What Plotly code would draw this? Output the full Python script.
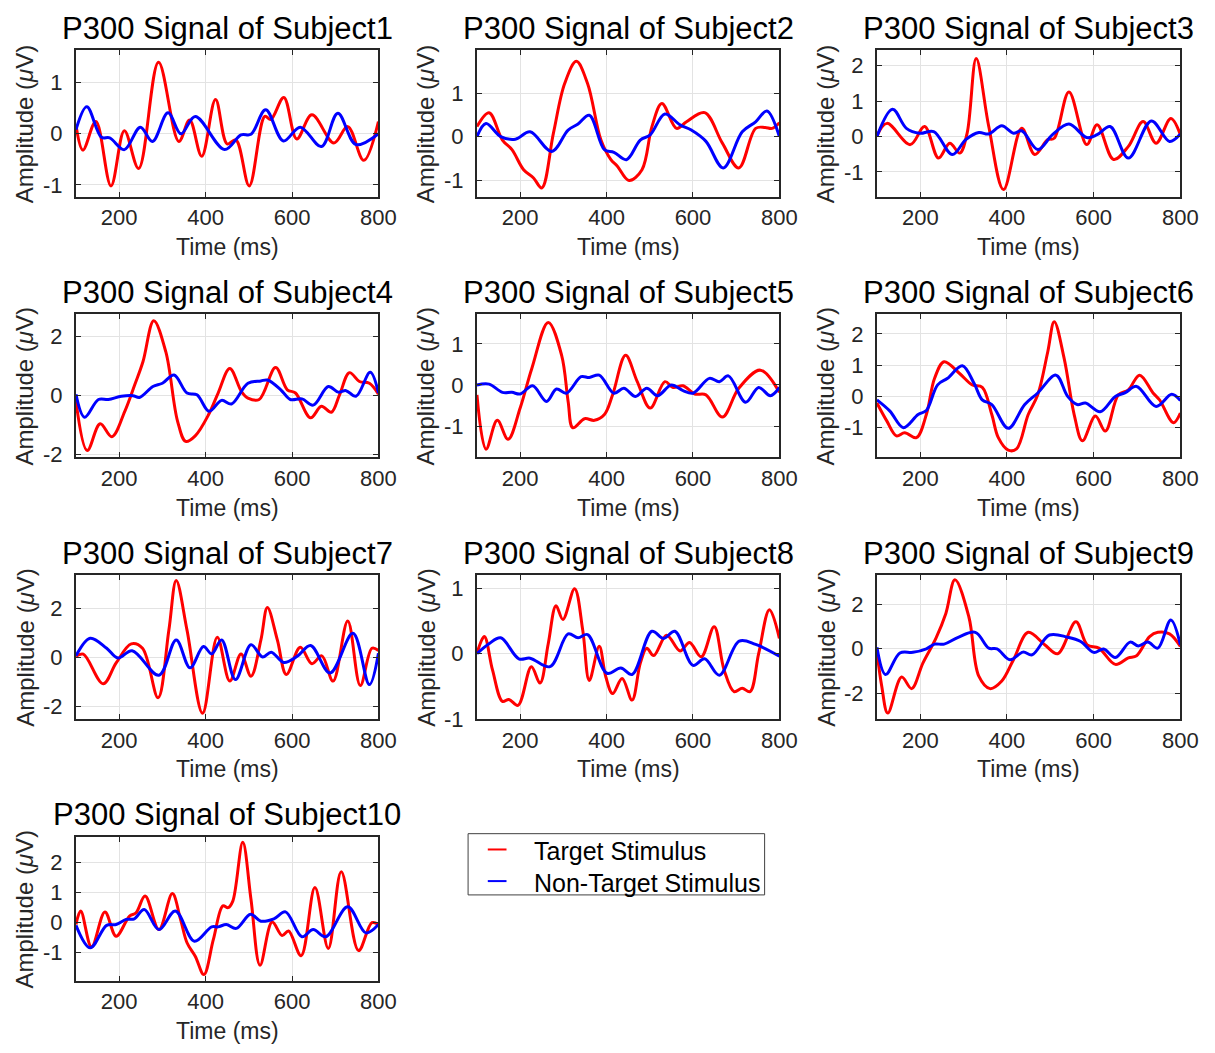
import plotly.graph_objects as go

# ---------------- data ----------------
s1_target_t = [100,116,146,181,212,245,291,338,363,391,423,450,470,501,537,551,581,611,646,697,729,766,800]
s1_target_v = [0.17,-0.32,0.24,-1.02,0.06,-0.68,1.40,-0.15,0.27,-0.44,0.67,-0.20,-0.12,-1.02,0.34,0.28,0.71,-0.10,0.37,-0.18,0.14,-0.52,0.24]
s1_non_t = [100,125,159,178,212,249,277,313,343,376,444,482,505,539,580,619,668,706,748,800]
s1_non_v = [0.08,0.53,-0.07,-0.08,-0.31,0.13,-0.15,0.41,0.0,0.34,-0.31,-0.02,-0.01,0.47,-0.14,0.13,-0.25,0.40,-0.21,0.0]

s2_target_t = [100,128,159,181,208,231,250,277,303,330,356,387,410,425,452,482,505,528,562,585,627,668,706,745,767,783,800]
s2_target_v = [0.23,0.55,-0.08,-0.30,-0.76,-0.95,-1.18,0.08,1.22,1.73,1.22,-0.08,-0.53,-0.68,-1.01,-0.76,0.23,0.76,0.19,0.34,0.55,-0.15,-0.72,0.19,0.21,0.19,0.32]
s2_non_t = [100,121,155,189,223,273,311,334,360,395,417,446,478,501,535,570,596,630,670,714,745,771,800]
s2_non_v = [0.0,0.30,0.0,-0.06,0.11,-0.34,0.15,0.29,0.49,-0.30,-0.36,-0.53,-0.08,0.04,0.52,0.27,0.15,-0.11,-0.72,0.11,0.34,0.59,0.0]

s3_target_t = [100,123,177,210,242,268,291,308,329,358,392,434,464,494,509,543,584,608,646,680,714,744,778,800]
s3_target_v = [0.02,0.37,-0.23,0.28,-0.61,-0.19,-0.47,0.09,2.20,0.28,-1.50,0.23,-0.51,-0.09,-0.05,1.26,-0.23,0.33,-0.65,-0.28,0.42,-0.19,0.51,0.05]
s3_non_t = [100,136,168,199,231,274,305,335,358,388,415,434,471,505,543,584,608,638,680,733,775,800]
s3_non_v = [0.0,0.77,0.23,0.09,0.14,-0.51,-0.09,0.11,0.07,0.30,0.09,0.16,-0.37,0.05,0.35,-0.03,0.05,0.28,-0.61,0.44,-0.14,0.07]

s4_target_t = [100,126,156,183,213,236,255,280,308,335,354,376,407,429,456,483,498,524,562,589,608,643,668,691,710,733,756,779,800]
s4_target_v = [-0.2,-1.87,-0.96,-1.40,-0.54,0.36,1.14,2.53,1.47,-0.87,-1.56,-1.37,-0.65,0.08,0.91,0.13,-0.09,-0.14,0.94,0.19,0.08,-0.76,-0.37,-0.57,0.02,0.77,0.47,0.41,0.04]
s4_non_t = [100,120,152,175,205,232,247,278,300,327,357,380,408,437,460,498,528,543,574,596,623,649,684,707,725,748,781,800]
s4_non_v = [0.04,-0.74,-0.14,-0.14,-0.03,-0.01,-0.07,0.30,0.41,0.69,0.08,0.02,-0.54,-0.17,-0.29,0.41,0.49,0.52,0.19,-0.14,-0.12,-0.33,0.30,0.11,0.16,-0.03,0.78,0.08]

s5_target_t = [100,121,147,172,200,227,265,296,311,322,349,372,395,414,444,471,501,535,554,577,604,630,668,706,756,800]
s5_target_v = [-0.24,-1.56,-0.86,-1.32,-0.56,0.40,1.52,0.72,-0.40,-1.04,-0.82,-0.86,-0.72,-0.24,0.72,0.08,-0.56,0.08,-0.06,-0.02,-0.22,-0.24,-0.78,-0.08,0.36,-0.18]
s5_non_t = [100,128,159,181,200,229,261,284,307,341,360,383,417,440,467,493,518,550,577,600,638,661,682,722,752,779,800]
s5_non_v = [0.0,0.02,-0.18,-0.18,-0.22,-0.02,-0.40,-0.10,-0.20,0.20,0.18,0.24,-0.20,-0.08,-0.28,-0.08,-0.26,0.0,-0.14,-0.20,0.16,0.08,0.22,-0.42,-0.06,-0.26,-0.06]

s6_target_t = [100,123,145,164,191,214,233,255,290,320,343,365,380,403,422,449,471,494,509,532,555,574,604,627,657,680,706,737,752,784,800]
s6_target_v = [-0.21,-0.79,-1.26,-1.16,-1.32,-0.58,0.58,1.11,0.74,0.37,0.29,-0.58,-1.32,-1.72,-1.68,-0.58,0.05,1.42,2.39,1.21,-0.58,-1.42,-0.63,-1.11,0.05,0.21,0.68,0.11,-0.11,-0.84,-0.53]
s6_non_t = [100,130,161,195,214,240,263,297,324,343,365,403,441,471,513,540,562,581,615,650,672,699,744,780,800]
s6_non_v = [-0.11,-0.47,-1.0,-0.58,-0.45,0.37,0.58,0.98,0.42,-0.11,-0.26,-1.02,-0.26,0.11,0.68,0.0,-0.26,-0.21,-0.49,0.0,0.11,0.32,-0.32,0.07,-0.13]

s7_target_t = [100,117,163,193,228,254,290,315,332,357,393,427,456,482,505,528,543,566,587,619,646,669,695,729,758,785,800]
s7_target_v = [0.03,0.12,-1.09,-0.24,0.54,0.36,-1.66,1.10,3.12,1.10,-2.29,0.81,-0.98,0.13,-0.78,0.70,2.02,0.70,-0.71,0.40,-0.27,0.05,-0.98,1.47,-1.16,0.36,0.27]
s7_non_t = [100,133,171,197,230,292,332,364,395,414,437,469,505,532,552,581,612,643,688,741,779,800]
s7_non_v = [0.05,0.77,0.36,-0.04,0.26,-0.74,0.70,-0.44,0.43,0.13,0.70,-0.92,0.50,0.0,0.20,-0.22,0.03,0.47,-0.65,0.97,-1.12,0.16]

s8_target_t = [100,117,136,159,174,195,226,246,265,283,299,326,345,360,383,398,414,436,459,478,493,509,539,570,592,619,649,672,695,714,732,752,777,800]
s8_target_v = [0.0,0.26,-0.25,-0.73,-0.70,-0.79,-0.20,-0.45,0.15,0.73,0.52,0.99,0.35,-0.41,0.11,-0.35,-0.61,-0.38,-0.71,-0.15,0.08,-0.03,0.28,0.04,0.17,-0.05,0.41,-0.25,-0.58,-0.53,-0.58,0.0,0.67,0.23]
s8_non_t = [100,128,155,197,223,269,311,334,356,401,433,459,505,532,558,600,627,661,707,745,800]
s8_non_v = [0.0,0.15,0.24,-0.08,-0.07,-0.20,0.30,0.24,0.29,-0.30,-0.22,-0.32,0.34,0.23,0.34,-0.18,-0.08,-0.33,0.19,0.14,-0.04]

s9_target_t = [100,111,125,157,180,206,236,259,280,312,335,361,388,415,449,487,517,559,585,612,650,680,699,729,748,775,800]
s9_target_v = [-0.12,-1.67,-2.89,-1.27,-1.79,-0.64,0.47,1.59,3.10,1.44,-1.23,-1.79,-1.45,-0.49,0.74,0.18,-0.22,1.21,0.18,0.03,-0.70,-0.41,-0.31,0.55,0.74,0.67,0.10]
s9_non_t = [100,120,153,183,214,233,255,286,327,358,377,407,437,458,498,540,570,600,623,650,684,703,725,748,778,800]
s9_non_v = [0.07,-1.16,-0.19,-0.16,0.0,0.21,0.21,0.50,0.74,0.03,0.0,-0.49,-0.15,-0.27,0.62,0.52,0.33,-0.16,-0.01,-0.39,0.30,0.13,0.30,0.03,1.29,0.18]

s10_target_t = [100,111,136,167,193,224,239,260,292,323,342,357,376,396,418,440,452,463,486,505,526,554,577,592,621,653,684,714,754,785,800]
s10_target_v = [-0.08,0.37,-0.83,0.34,-0.47,0.20,0.31,0.87,-0.25,0.95,0.09,-0.69,-1.14,-1.75,-0.58,0.54,0.48,0.70,2.66,0.76,-1.44,0.0,-0.45,-0.30,-1.12,1.15,-0.88,1.68,-0.95,-0.02,-0.08]
s10_non_t = [100,133,171,193,216,235,258,292,330,374,414,429,448,471,504,528,558,585,623,649,678,729,771,800]
s10_non_v = [-0.11,-0.86,-0.11,-0.08,0.09,0.11,0.42,-0.25,0.37,-0.64,-0.16,-0.16,-0.08,-0.21,0.26,0.03,0.11,0.34,-0.49,-0.25,-0.49,0.51,-0.36,-0.08]

subject_names = ["Subject1","Subject2","Subject3","Subject4","Subject5",
                 "Subject6","Subject7","Subject8","Subject9","Subject10"]
y_ranges = [(-1.23,1.63),(-1.38,1.98),(-1.70,2.43),(-2.10,2.75),(-1.76,1.72),
            (-1.95,2.63),(-2.53,3.35),(-1.0,1.20),(-3.16,3.32),(-1.96,2.85)]
y_ticks = [[-1,0,1],[-1,0,1],[-1,0,1,2],[-2,0,2],[-1,0,1],
           [-1,0,1,2],[-2,0,2],[-1,0,1],[-2,0,2],[-1,0,1,2]]
x_ticks = [200,400,600,800]
legend_names = ["Target Stimulus", "Non-Target Stimulus"]
series_colors = ["#ff0000", "#0000ff"]

targets = [(s1_target_t,s1_target_v),(s2_target_t,s2_target_v),(s3_target_t,s3_target_v),
           (s4_target_t,s4_target_v),(s5_target_t,s5_target_v),(s6_target_t,s6_target_v),
           (s7_target_t,s7_target_v),(s8_target_t,s8_target_v),(s9_target_t,s9_target_v),
           (s10_target_t,s10_target_v)]
nontargets = [(s1_non_t,s1_non_v),(s2_non_t,s2_non_v),(s3_non_t,s3_non_v),
              (s4_non_t,s4_non_v),(s5_non_t,s5_non_v),(s6_non_t,s6_non_v),
              (s7_non_t,s7_non_v),(s8_non_t,s8_non_v),(s9_non_t,s9_non_v),
              (s10_non_t,s10_non_v)]

# ---------------- layout geometry (pixels) ----------------
W, H = 1215, 1053
cols_px = [(69, 376), (476, 783), (882, 1190)]
rows_px = [(43, 191), (310, 455), (574, 720), (839, 985)]
FONT = "Liberation Sans, Arial, Helvetica, sans-serif"
AXC = "#262626"

def px(x):
    return x / W

def py(y):
    return 1 - y / H

fig = go.Figure()
layout = dict(width=W, height=H, autosize=False,
              margin=dict(l=0, r=0, t=0, b=0),
              paper_bgcolor="white", plot_bgcolor="white",
              font=dict(family=FONT, size=22, color=AXC),
              showlegend=False)
annotations = []
shapes = []

for i in range(10):
    r, c = divmod(i, 3)
    x0, x1 = cols_px[c]
    y0, y1 = rows_px[r]
    k = "" if i == 0 else str(i + 1)
    xa, ya = "x" + k, "y" + k
    common = dict(showline=True, linecolor=AXC, linewidth=2, mirror="ticks",
                  ticks="inside", ticklen=5, tickcolor=AXC, tickwidth=1,
                  showgrid=True, gridcolor="#e3e3e3", gridwidth=1,
                  zeroline=False, tickfont=dict(family=FONT, size=22, color=AXC))
    layout["xaxis" + k] = dict(domain=[px(x0), px(x1)], range=[100, 800], tickvals=x_ticks,
                               ticktext=[str(v) for v in x_ticks],
                               anchor=ya, ticklabelstandoff=0, **common)
    layout["yaxis" + k] = dict(domain=[py(y1), py(y0)], range=list(y_ranges[i]), tickvals=y_ticks[i],
                               ticktext=[str(v) for v in y_ticks[i]],
                               anchor=xa, ticklabelstandoff=7, **common)
    tt, tv = targets[i]
    nt, nv = nontargets[i]
    fig.add_trace(go.Scatter(x=tt, y=tv, mode="lines", xaxis=xa, yaxis=ya,
                             line=dict(color=series_colors[0], width=3, shape="spline", smoothing=1.0),
                             name=legend_names[0]))
    fig.add_trace(go.Scatter(x=nt, y=nv, mode="lines", xaxis=xa, yaxis=ya,
                             line=dict(color=series_colors[1], width=3, shape="spline", smoothing=1.0),
                             name=legend_names[1]))
    cx = px((x0 + x1) / 2)
    annotations.append(dict(text="P300 Signal of " + subject_names[i], x=cx, y=py(y0 - 22),
                            xref="paper", yref="paper", showarrow=False, borderpad=0,
                            xanchor="center", yanchor="middle",
                            font=dict(family=FONT, size=31, color="black")))
    annotations.append(dict(text="Time (ms)", x=cx, y=py(y1 + 51),
                            xref="paper", yref="paper", showarrow=False,
                            xanchor="center", yanchor="middle",
                            font=dict(family=FONT, size=23, color=AXC)))
    annotations.append(dict(text="Amplitude (<i>μ</i>V)", x=px(x0 - 52),
                            y=py((y0 + y1) / 2),
                            xref="paper", yref="paper", showarrow=False, textangle=-90,
                            xanchor="center", yanchor="middle",
                            font=dict(family=FONT, size=24, color=AXC)))

# ---------------- legend box (MATLAB style) ----------------
LX0, LX1, LY0, LY1 = 467, 768, 836, 898
shapes.append(dict(type="rect", xref="paper", yref="paper",
                   x0=px(LX0), x1=px(LX1), y0=py(LY1), y1=py(LY0),
                   line=dict(color="#404040", width=1), fillcolor="white", layer="above"))
for j, name in enumerate(legend_names):
    yc = 852 + 32 * j
    shapes.append(dict(type="line", xref="paper", yref="paper",
                       x0=px(487), x1=px(506), y0=py(yc), y1=py(yc),
                       line=dict(color=series_colors[j], width=2), layer="above"))
    annotations.append(dict(text=name, x=px(532), y=py(yc + 2), xref="paper", yref="paper",
                            showarrow=False, xanchor="left", yanchor="middle",
                            font=dict(family=FONT, size=25, color="black")))

layout["annotations"] = annotations
layout["shapes"] = shapes
fig.update_layout(**layout)
fig.write_html("out.html")
